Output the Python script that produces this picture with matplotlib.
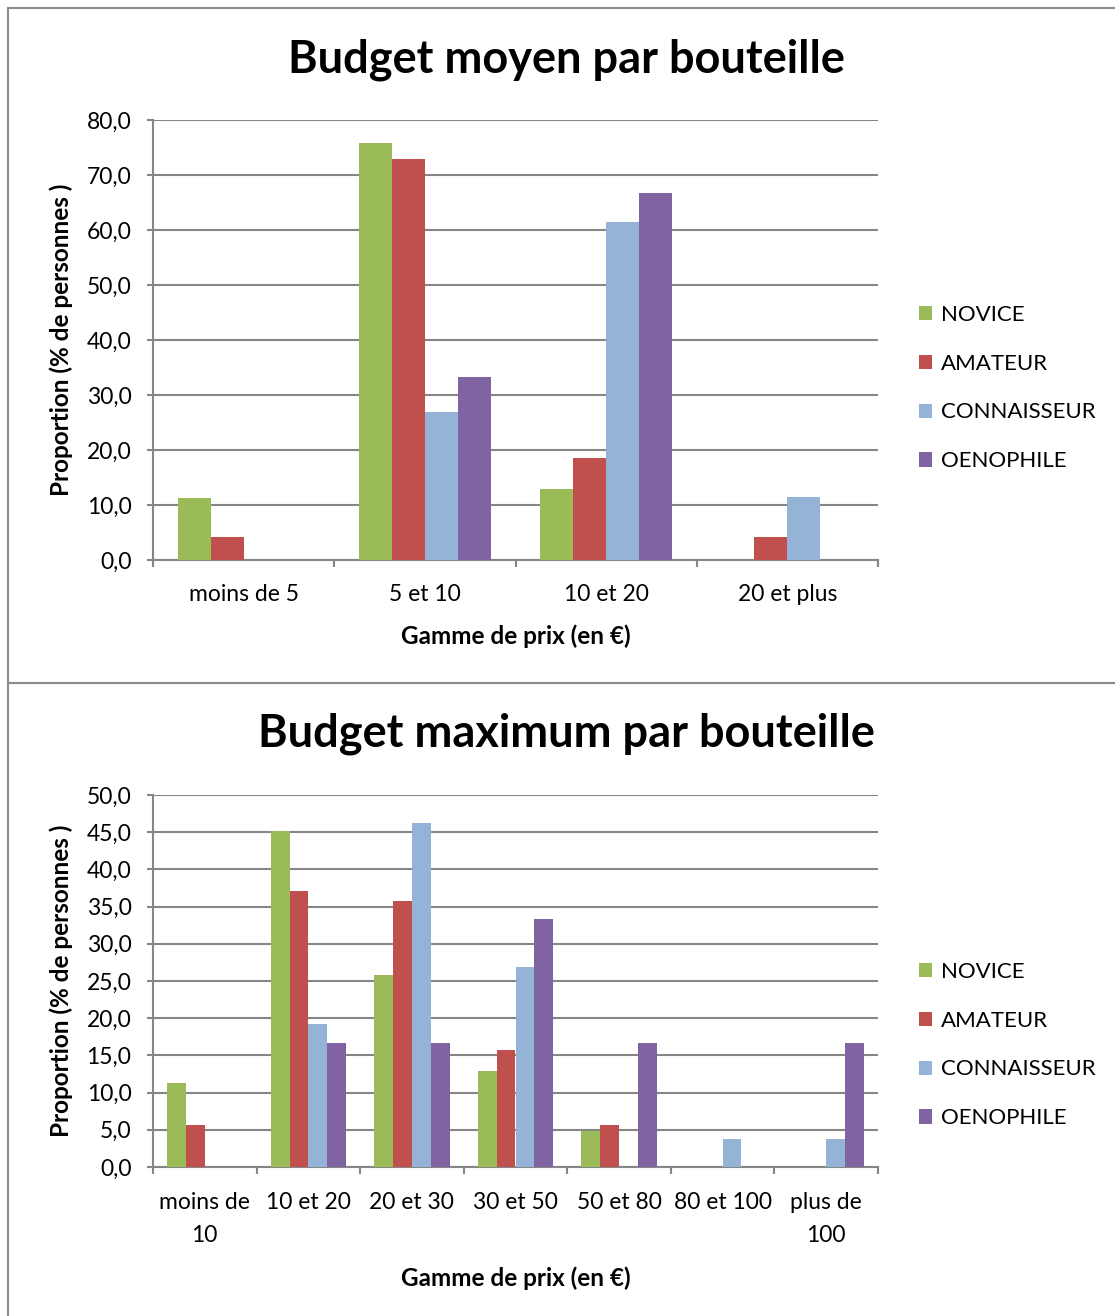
import matplotlib
matplotlib.use("Agg")
import matplotlib.pyplot as plt
import numpy as np
from matplotlib.patches import Rectangle
from matplotlib.ticker import FuncFormatter, MultipleLocator

plt.rcParams['font.family'] = ['Lato', 'DejaVu Sans']

series = ["NOVICE", "AMATEUR", "CONNAISSEUR", "OENOPHILE"]
colors = ['#9BBB59', '#C0504D', '#95B3D7', '#8064A2']

# budget moyen
moyen_cats = ["moins de 5", "5 et 10", "10 et 20", "20 et plus"]
moyen_novice = [11.3, 75.8, 12.9, 0]
moyen_amateur = [4.2, 72.9, 18.6, 4.2]
moyen_conn = [0, 26.9, 61.5, 11.5]
moyen_oeno = [0, 33.3, 66.7, 0]

# budget maximum
max_cats = ["moins de\n10", "10 et 20", "20 et 30", "30 et 50", "50 et 80", "80 et 100", "plus de\n100"]
max_novice = [11.3, 45.2, 25.8, 12.9, 4.8, 0, 0]
max_amateur = [5.7, 37.1, 35.7, 15.7, 5.7, 0, 0]
max_conn = [0, 19.2, 46.2, 26.9, 0, 3.8, 3.8]
max_oeno = [0, 16.7, 16.7, 33.3, 16.7, 0, 16.7]

W, H = 1115, 1316
fig = plt.figure(figsize=(W / 100, H / 100), dpi=100)

# panel frames
for y0, y1 in [(8, 683), (683, H + 5)]:
    fig.add_artist(Rectangle((8 / W, 1 - y1 / H), (W + 10) / W, (y1 - y0) / H,
                             transform=fig.transFigure, fill=False,
                             edgecolor='#8c8c8c', linewidth=1.5))

grey = '#868686'
comma = FuncFormatter(lambda v, p: f"{v:.1f}".replace('.', ','))


def draw(rect, cats, data, ymax, step, title, title_y, leg_y, xpad, xlpad):
    ax = fig.add_axes(rect)
    n = len(cats)
    x = np.arange(n)
    bw = 0.182
    for i, vals in enumerate(data):
        ax.bar(x + (i - 1.5) * bw, vals, bw, color=colors[i], label=series[i], zorder=3)
    ax.set_xlim(-0.5, n - 0.5)
    ax.set_ylim(0, ymax)
    ax.yaxis.set_major_locator(MultipleLocator(step))
    ax.yaxis.set_major_formatter(comma)
    ax.grid(axis='y', color=grey, linewidth=1.5, zorder=0)
    ax.set_xticks(np.arange(n + 1) - 0.5)
    ax.set_xticklabels([])
    ax.set_xticks(x, minor=True)
    ax.set_xticklabels(cats, minor=True, fontsize=16.5, linespacing=1.7)
    ax.tick_params(axis='x', which='minor', length=0, pad=xpad)
    ax.tick_params(axis='x', which='major', length=5, width=1.5, color=grey)
    ax.tick_params(axis='y', length=4.5, width=1.5, color=grey, labelsize=16.5, pad=11)
    for s in ['top', 'right']:
        ax.spines[s].set_visible(False)
    for s in ['left', 'bottom']:
        ax.spines[s].set_color(grey)
        ax.spines[s].set_linewidth(1.5)
    ax.set_ylabel("Proportion (% de personnes )", fontsize=17.5, fontweight='bold', labelpad=10)
    ax.set_xlabel("Gamme de prix (en €)", fontsize=17.5, fontweight='bold', labelpad=xlpad)
    fig.text(566 / W, 1 - title_y / H, title, fontsize=32.5, fontweight='bold',
             ha='center', va='center')
    ax.legend(loc='center left', bbox_to_anchor=(899 / W, 1 - leg_y / H),
              bbox_transform=fig.transFigure, frameon=False, fontsize=16,
              handlelength=0.6, handleheight=0.6, handletextpad=0.4, labelspacing=1.3)
    return ax


draw([153 / W, 1 - 560 / H, 725 / W, 440 / H], moyen_cats,
     [moyen_novice, moyen_amateur, moyen_conn, moyen_oeno], 80, 10,
     "Budget moyen par bouteille", 60, 388, 17, 14)
draw([153 / W, 1 - 1167 / H, 725 / W, 372 / H], max_cats,
     [max_novice, max_amateur, max_conn, max_oeno], 50, 5,
     "Budget maximum par bouteille", 734, 1045, 18, 15)

fig.savefig("out.png", dpi=100)
